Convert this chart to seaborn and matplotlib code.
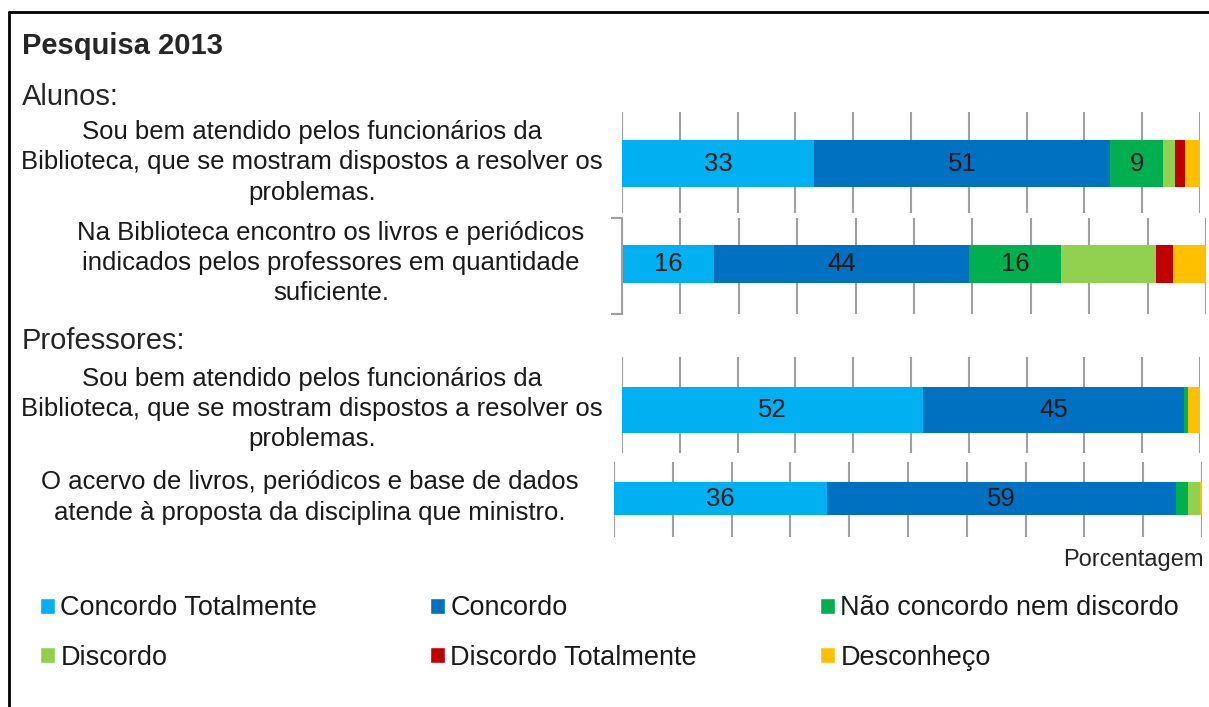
import matplotlib
matplotlib.use("Agg")
import matplotlib.pyplot as plt
import seaborn as sns
from matplotlib.patches import Patch
from matplotlib.lines import Line2D

# dados (percentagens)
series = ["Concordo Totalmente", "Concordo", "Não concordo nem discordo",
          "Discordo", "Discordo Totalmente", "Desconheço"]
colors = ["#00B0F0", "#0070C0", "#00B050", "#92D050", "#C00000", "#FFC000"]

questions = [
    "Sou bem atendido pelos funcionários da\nBiblioteca, que se mostram dispostos a resolver os\nproblemas.",
    "Na Biblioteca encontro os livros e periódicos\nindicados pelos professores em quantidade\nsuficiente.",
    "Sou bem atendido pelos funcionários da\nBiblioteca, que se mostram dispostos a resolver os\nproblemas.",
    "O acervo de livros, periódicos e base de dados\natende à proposta da disciplina que ministro.",
]
alunos_q1 = [33.2, 51.3, 9.1, 2.0, 1.8, 2.6]
alunos_q2 = [15.8, 43.6, 15.8, 16.3, 2.8, 5.7]
prof_q1 = [52.0, 45.3, 0.7, 0.0, 0.0, 2.0]
prof_q2 = [36.3, 59.3, 2.0, 2.0, 0.0, 0.4]
values = [alunos_q1, alunos_q2, prof_q1, prof_q2]

sns.set_style("white")
plt.rcParams['font.family'] = ['Liberation Sans', 'DejaVu Sans']

W, H = 1209, 707
fig = plt.figure(figsize=(W / 100, H / 100), dpi=100)

def fx(px):
    return px / W

def fy(py):
    return 1 - py / H

# (esquerda, direita, topo, base, topo barra, base barra, centro x do texto)
layout = [
    (622, 1200, 112, 213, 140, 187, 312),
    (622, 1206, 218, 314, 245, 283, 331),
    (622, 1200, 357, 453, 387, 433, 312),
    (614, 1202, 462, 537, 482, 515, 310),
]

bw = 0.5
for i, (vals, q) in enumerate(zip(values, questions)):
    l, r, t, b, bt, bb, tx = layout[i]
    ax = fig.add_axes([fx(l), fy(b), fx(r - l), (b - t) / H])
    left = 0
    for j, (v, c) in enumerate(zip(vals, colors)):
        sns.barplot(x=[v], y=[0], orient="h", color=c, left=left, width=bw,
                    ax=ax, saturation=1, linewidth=0)
        if j < 3 and v >= 5:
            ax.bar_label(ax.containers[-1], labels=[f"{v:.0f}"],
                         label_type="center", fontsize=18.5, color="#1a1a1a")
        left += v
    ppu = (bb - bt) / bw
    bc = (bt + bb) / 2
    ax.set_ylim((b - bc) / ppu, -(bc - t) / ppu)
    ax.set_xlim(0, 100)
    ax.set_xticks(range(0, 101, 10))
    ax.grid(axis="x", color="#A0A0A0", linewidth=1.5)
    ax.set_axisbelow(True)
    ax.tick_params(left=False, bottom=False, labelleft=False, labelbottom=False)
    for s in ax.spines.values():
        s.set_visible(False)
    ax.set_xlabel("")
    ax.set_ylabel("")
    if i == 1:
        yl = ax.get_ylim()
        ax.set_yticks(list(yl))
        ax.tick_params(left=True, length=8, width=1.5, color="#A0A0A0")
        ax.spines["left"].set_visible(True)
        ax.spines["left"].set_color("#A0A0A0")
        ax.spines["left"].set_linewidth(1.5)
    fig.text(fx(tx), fy(bc - 1), q, ha="center", va="center", multialignment="center",
             fontsize=18.5, linespacing=1.33, color="#1a1a1a")

fig.text(fx(22), fy(46), "Pesquisa 2013", fontsize=21, fontweight="bold", va="center")
fig.text(fx(22), fy(97), "Alunos:", fontsize=21, va="center")
fig.text(fx(22), fy(341), "Professores:", fontsize=21, va="center")
fig.text(fx(1204), fy(560), "Porcentagem", fontsize=17, ha="right", va="center")

# legenda em três colunas, cada uma com duas entradas
cols = [[0, 3], [1, 4], [2, 5]]
col_x = [40, 430, 820]
for ks, x0 in zip(cols, col_x):
    handles = [Patch(facecolor=colors[k], label=series[k]) for k in ks]
    fig.legend(handles=handles, frameon=False, loc="center left",
               bbox_to_anchor=(fx(x0), fy(633)), fontsize=19.5,
               handlelength=0.55, handleheight=0.55, handletextpad=0.2,
               labelspacing=0.85, borderaxespad=0, borderpad=0,
               labelcolor="#1a1a1a")

# moldura
fig.add_artist(Line2D([fx(9), 1], [fy(12), fy(12)], color="black", linewidth=2))
fig.add_artist(Line2D([fx(9), fx(9)], [fy(12), 0], color="black", linewidth=2))

fig.savefig("out.png", dpi=100, facecolor="white")
